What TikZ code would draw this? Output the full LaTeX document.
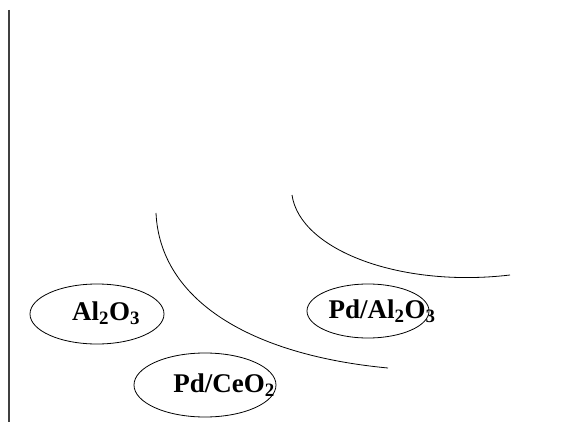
\documentclass[tikz,border=0pt]{standalone}
\usepackage{fontspec}
\setmainfont{Liberation Serif}
\usetikzlibrary{shapes.geometric}
\begin{document}
\begin{tikzpicture}[x=1pt,y=-1pt,
  oval/.style={draw, ellipse, line width=0.8pt, inner sep=0pt},
  lbl/.style={font=\fontsize{27}{30}\selectfont\bfseries, inner sep=0pt},
  arcline/.style={draw, line width=0.8pt}]
\useasboundingbox (0,0) rectangle (569,427);
% vertical axis line
\coordinate (vt) at (9,10);
\coordinate (vb) at (9,422);
\draw[line width=1.2pt, black!75] (vt) -- (vb);
% ellipses
\node[oval, minimum width=134, minimum height=60] (e1) at (97,314) {};
\node[oval, minimum width=142, minimum height=64] (e2) at (205,385) {};
\node[oval, minimum width=122, minimum height=54] (e3) at (368,311) {};
% labels
\node[lbl] (t1) at (106,313) {Al\textsubscript{2}O\textsubscript{3}};
\node[lbl] (t2) at (224,385) {Pd/CeO\textsubscript{2}};
\node[lbl] (t3) at (382,311) {Pd/Al\textsubscript{2}O\textsubscript{3}};
% curves
\coordinate (c1s) at (156,213);
\coordinate (c1e) at (388,368);
\coordinate (c2s) at (292,195);
\coordinate (c2e) at (510,275);
\draw[arcline] (c1s) .. controls (160,300) and (250,355) .. (c1e);
\draw[arcline] (c2s) .. controls (300,250) and (400,288) .. (c2e);
\end{tikzpicture}
\end{document}
